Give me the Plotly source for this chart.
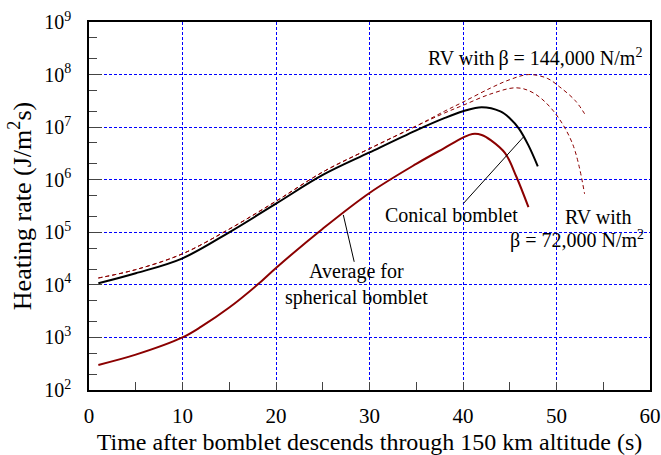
import plotly.graph_objects as go
import math

# Conical bomblet (black)
t_conical = [1, 5, 10, 15, 20, 25, 30, 35, 38, 40, 42, 44, 45, 46, 47, 48]
q_conical = [1.07e4, 1.66e4, 3.2e4, 1.0e5, 3.5e5, 1.23e6, 3.3e6, 8.7e6, 1.48e7,
             2.0e7, 2.4e7, 2.0e7, 1.48e7, 9.3e6, 4.5e6, 1.8e6]

# Average for spherical bomblet (dark red)
t_sphere = [1, 5, 10, 12, 15, 18, 20, 25, 30, 35, 38, 40, 41, 42, 43, 44.5, 45.7, 47]
q_sphere = [300, 470, 1000, 1.6e3, 3.7e3, 1.0e4, 2.1e4, 1.17e5, 5.6e5, 2.0e6, 4.0e6,
            6.3e6, 7.4e6, 7.1e6, 5.6e6, 3.2e6, 1.15e6, 3.0e5]

# RV with beta = 144,000 N/m^2 (dashed)
t_rv144 = [1, 5, 10, 15, 20, 25, 30, 35, 38, 40, 43, 45, 47, 49, 50.3, 52, 53]
q_rv144 = [1.35e4, 1.95e4, 3.9e4, 1.15e5, 3.9e5, 1.4e6, 3.9e6, 1.05e7, 2.0e7, 3.0e7,
           5.6e7, 8.0e7, 1.0e8, 8.5e7, 5.9e7, 3.2e7, 1.8e7]

# RV with beta = 72,000 N/m^2 (dashed)
t_rv72 = [1, 5, 10, 15, 20, 25, 30, 35, 38, 40, 43, 45.7, 47.5, 49.6, 51.7, 53]
q_rv72 = [1.35e4, 1.95e4, 3.9e4, 1.15e5, 3.9e5, 1.4e6, 3.9e6, 1.05e7, 1.85e7, 2.6e7,
          4.3e7, 5.6e7, 4.5e7, 2.1e7, 4.9e6, 5.4e5]

y_tick_vals = [1e2, 1e3, 1e4, 1e5, 1e6, 1e7, 1e8, 1e9]
y_tick_text = ["10<sup>%d</sup>" % int(round(math.log10(v))) for v in y_tick_vals]
x_tick_vals = [0, 10, 20, 30, 40, 50, 60]

DARKRED = "#8b0000"
FONT = "Times New Roman, Liberation Serif, serif"

fig = go.Figure()
fig.add_trace(go.Scatter(x=t_rv144, y=q_rv144, mode="lines",
                         line=dict(color=DARKRED, width=1, dash="4px,3px", shape="spline")))
fig.add_trace(go.Scatter(x=t_rv72, y=q_rv72, mode="lines",
                         line=dict(color=DARKRED, width=1, dash="4px,3px", shape="spline")))
fig.add_trace(go.Scatter(x=t_conical, y=q_conical, mode="lines",
                         line=dict(color="black", width=2, shape="spline")))
fig.add_trace(go.Scatter(x=t_sphere, y=q_sphere, mode="lines",
                         line=dict(color=DARKRED, width=2, shape="spline")))

ann_font = dict(family=FONT, size=20, color="black")
fig.add_annotation(x=47.7, y=8.33, text="RV with\u2009β = 144,000 N/m<sup>2</sup>",
                   showarrow=False, font=ann_font)
fig.add_annotation(x=38.8, y=5.33, text="Conical bomblet", showarrow=False, font=ann_font)
fig.add_annotation(x=46.5, y=6.82, ax=39.9, ay=5.52, axref="x", ayref="y",
                   text="", showarrow=True, arrowhead=0, arrowwidth=1, arrowcolor="black")
fig.add_annotation(x=54.4, y=5.29, text="RV with", showarrow=False, font=ann_font)
fig.add_annotation(x=52.2, y=4.87, text="β = 72,000 N/m<sup>2</sup>", showarrow=False, font=ann_font)
fig.add_annotation(x=28.6, y=4.0, text="Average for<br>spherical bomblet",
                   showarrow=False, font=ann_font)
fig.add_annotation(x=27.2, y=5.33, ax=28.4, ay=4.41, axref="x", ayref="y",
                   text="", showarrow=True, arrowhead=0, arrowwidth=1, arrowcolor="black")

fig.update_layout(
    width=661, height=455,
    margin=dict(l=89, r=11, t=22, b=65),
    paper_bgcolor="white", plot_bgcolor="white",
    showlegend=False,
    font=dict(family=FONT, size=20, color="black"),
)
fig.update_xaxes(
    range=[0, 60], tickvals=x_tick_vals, ticks="inside", ticklen=8,
    showline=True, linecolor="black", linewidth=1.5, mirror=True,
    showgrid=True, gridcolor="#0000ff", griddash="3px,2px", gridwidth=1,
    zeroline=False, automargin=False, ticklabelstandoff=6,
    minor=dict(dtick=5, ticks="inside", ticklen=8, showgrid=False),
    title=dict(text="Time after bomblet descends through 150 km altitude (s)",
               font=dict(family=FONT, size=24), standoff=6),
    tickfont=dict(family=FONT, size=21),
)
fig.update_yaxes(
    type="log", range=[2, 9], tickvals=y_tick_vals, ticktext=y_tick_text,
    ticks="inside", ticklen=13,
    showline=True, linecolor="black", linewidth=1.5, mirror=True,
    showgrid=True, gridcolor="#0000ff", griddash="3px,2px", gridwidth=1,
    zeroline=False, automargin=False, ticklabelstandoff=12,
    minor=dict(ticks="inside", ticklen=8, showgrid=False),
    title=dict(text="Heating rate (J/m<sup>2</sup>s)", font=dict(family=FONT, size=26), standoff=5),
    tickfont=dict(family=FONT, size=20),
)

fig.write_html(
    "out.html",
    config={"displayModeBar": False},
    post_script="document.body.style.margin='0';document.body.style.overflow='hidden';",
)
